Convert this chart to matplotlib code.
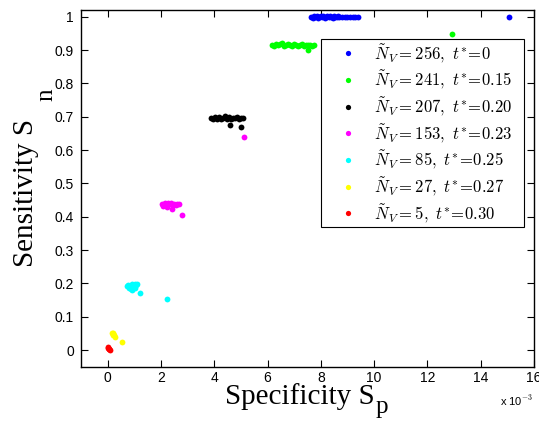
import matplotlib
matplotlib.use("Agg")
import matplotlib.pyplot as plt

plt.rcParams['mathtext.fontset'] = 'cm'

# Specificity values in units of 1e-3, sensitivity values
blue_x = [7.65, 7.70, 7.75, 7.80, 7.85, 7.90, 7.95, 8.00, 8.05, 8.10, 8.15, 8.20, 8.25,
          8.30, 8.35, 8.40, 8.45, 8.50, 8.55, 8.60, 8.65, 8.70, 8.80, 8.90, 9.00,
          9.10, 9.20, 9.30, 9.40, 15.05]
blue_y = [1.000, 0.997, 1.003, 0.999, 1.002, 0.997, 1.000, 1.003, 0.998, 1.001, 0.997, 1.000,
          1.003, 0.998, 1.002, 1.000, 0.997, 1.001, 0.999, 1.000, 1.002, 0.999, 1.000, 1.000,
          1.000, 1.000, 1.000, 1.000, 1.000, 1.000]

green_x = [6.18, 6.25, 6.32, 6.40, 6.48, 6.55, 6.62, 6.70, 6.78, 6.85, 6.92, 7.00, 7.08,
           7.15, 7.22, 7.30, 7.38, 7.45, 7.52, 7.60, 7.68, 7.76, 7.51, 12.93]
green_y = [0.916, 0.913, 0.919, 0.915, 0.918, 0.920, 0.913, 0.916, 0.919, 0.915, 0.912,
           0.917, 0.916, 0.913, 0.915, 0.917, 0.912, 0.916, 0.914, 0.915, 0.913, 0.915,
           0.901, 0.948]

black_x = [3.88, 3.95, 4.02, 4.10, 4.18, 4.25, 4.32, 4.40, 4.48, 4.55, 4.62, 4.70, 4.78,
           4.85, 4.92, 5.00, 5.08, 4.59, 5.02]
black_y = [0.696, 0.692, 0.699, 0.694, 0.700, 0.693, 0.697, 0.701, 0.694, 0.698, 0.692,
           0.697, 0.695, 0.698, 0.694, 0.696, 0.697, 0.675, 0.669]

magenta_x = [2.03, 2.08, 2.14, 2.20, 2.26, 2.32, 2.38, 2.44, 2.50, 2.56, 2.62, 2.68,
             2.22, 2.43, 2.78, 5.12]
magenta_y = [0.438, 0.433, 0.441, 0.436, 0.442, 0.437, 0.441, 0.434, 0.439, 0.436, 0.438,
             0.437, 0.430, 0.422, 0.406, 0.639]

cyan_x = [0.72, 0.78, 0.84, 0.90, 0.96, 1.02, 1.08, 1.12, 0.80, 0.88, 0.95, 1.04, 0.92,
          1.21, 2.23]
cyan_y = [0.193, 0.196, 0.190, 0.198, 0.194, 0.199, 0.195, 0.197, 0.186, 0.184, 0.188,
          0.185, 0.180, 0.171, 0.153]

yellow_x = [0.17, 0.22, 0.20, 0.25, 0.29, 0.54]
yellow_y = [0.052, 0.050, 0.045, 0.044, 0.039, 0.025]

red_x = [0.02, 0.03, 0.05, 0.06, 0.08]
red_y = [0.010, 0.006, 0.004, 0.002, 0.000]

series_colors = ['#0000ff', '#00ff00', '#000000', '#ff00ff', '#00ffff', '#ffff00', '#ff0000']
n_v = [256, 241, 207, 153, 85, 27, 5]
t_star = ['0', '0.15', '0.20', '0.23', '0.25', '0.27', '0.30']

xs = [blue_x, green_x, black_x, magenta_x, cyan_x, yellow_x, red_x]
ys = [blue_y, green_y, black_y, magenta_y, cyan_y, yellow_y, red_y]

x_ticks = [0, 2, 4, 6, 8, 10, 12, 14, 16]
y_ticks = [0, 0.1, 0.2, 0.3, 0.4, 0.5, 0.6, 0.7, 0.8, 0.9, 1]
y_tick_labels = ['0', '0.1', '0.2', '0.3', '0.4', '0.5', '0.6', '0.7', '0.8', '0.9', '1']

W, H = 539, 422
fig = plt.figure(figsize=(W / 100, H / 100), dpi=100)
ax = fig.add_axes([0.150, 0.131, 0.841, 0.845])

for x, y, c, n, t in zip(xs, ys, series_colors, n_v, t_star):
    ax.plot(x, y, linestyle='none', marker='o', markersize=4.2, color=c,
            markeredgewidth=0, label=r'$\tilde{N}_V=%d,\ t^{*}\!=\!%s$' % (n, t))

ax.set_xlim(-1, 16)
ax.set_ylim(-0.05, 1.02)
ax.set_xticks(x_ticks)
ax.set_xticklabels([str(v) for v in x_ticks], fontfamily='Liberation Sans', fontsize=10)
ax.set_yticks(y_ticks)
ax.set_yticklabels(y_tick_labels, fontfamily='Liberation Sans', fontsize=10)
ax.tick_params(direction='in', length=5, width=0.8, top=True, right=True)
ax.tick_params(axis='x', pad=3)
ax.tick_params(axis='y', pad=5)
for s in ax.spines.values():
    s.set_linewidth(1.0)

# Axis labels with large, low subscripts (as in the reference)
xl = fig.text(375 / W, 1 - 404 / H, 'Specificity S', fontfamily='Liberation Serif',
              fontsize=21, ha='right', va='baseline')
yl = fig.text(33 / W, 1 - 267 / H, 'Sensitivity S', fontfamily='Liberation Serif',
              fontsize=21, ha='left', va='baseline', rotation=90, rotation_mode='anchor')
fig.canvas.draw()
r = fig.canvas.get_renderer()
bx = xl.get_window_extent(r)
fig.text((bx.x1 + 1) / W, (1 - 413 / H), 'p', fontfamily='Liberation Serif',
         fontsize=18, ha='left', va='baseline')
fig.text(52 / W, 1 - 101 / H, 'n', fontfamily='Liberation Serif',
         fontsize=18, ha='left', va='baseline', rotation=90, rotation_mode='anchor')

fig.text(0.928, 0.038, r'x 10$^{-3}$', fontfamily='Liberation Sans', fontsize=8)

leg = ax.legend(loc='upper left', bbox_to_anchor=(0.530, 0.909, 0.447, 0.01),
                mode='expand', borderaxespad=0, fontsize=12,
                frameon=True, fancybox=False, edgecolor='black', framealpha=1,
                markerscale=0.9, handlelength=2.9, handletextpad=0.1, labelspacing=0.22,
                borderpad=0.16)
leg.get_frame().set_linewidth(0.8)

fig.savefig('out.png', dpi=100)
